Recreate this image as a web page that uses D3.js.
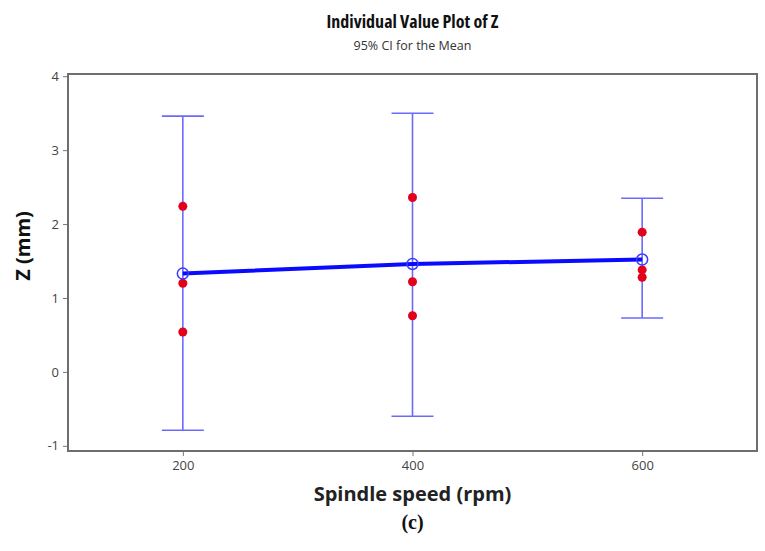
<html>
<head>
  <meta charset="utf-8">
  <script src="https://d3js.org/d3.v7.min.js"></script>
  <style type="text/css">
  body { margin: 0; background: #fff; }
  text { font-family: "Open Sans", "Noto Sans", sans-serif; }
  text.caption { font-family: "Liberation Serif", "DejaVu Serif", serif; }
  </style>
</head>
<body>
<div id="viz"></div>
<script type="text/javascript">

const WIDTH = 765, HEIGHT = 551;

// values
const speeds = [200, 400, 600];
const observations = [
  [2.24, 1.20, 0.54],
  [2.36, 1.22, 0.76],
  [1.89, 1.38, 1.28]
];
const means = [1.33, 1.46, 1.52];
const ciLow = [-0.79, -0.60, 0.73];
const ciHigh = [3.46, 3.50, 2.35];
const yTicks = [-1, 0, 1, 2, 3, 4];

const margin = {left: 68, right: 8, top: 74, bottom: 100};

let svg = d3.select("#viz")
  .append("svg")
  .attr("width", WIDTH)
  .attr("height", HEIGHT);

let x = d3.scaleLinear()
  .domain([100, 700])
  .range([margin.left, WIDTH - margin.right]);

let y = d3.scaleLinear()
  .domain([-1.07, 4.03])
  .range([HEIGHT - margin.bottom, margin.top]);

// frame
svg.append("rect")
  .attr("x", margin.left)
  .attr("y", margin.top)
  .attr("width", WIDTH - margin.right - margin.left)
  .attr("height", HEIGHT - margin.bottom - margin.top)
  .attr("fill", "none")
  .attr("stroke", "#6e6e6e")
  .attr("stroke-width", 2);

let yAxis = svg.append("g")
  .attr("transform", `translate(${margin.left - 1},0)`)
  .call(d3.axisLeft(y).tickValues(yTicks).tickFormat(d => String(d)).tickSize(4).tickPadding(4));
yAxis.select(".domain").remove();
yAxis.selectAll("line").attr("stroke", "#777");
yAxis.selectAll("text").attr("fill", "#444").style("font-size", "13px");

let xAxis = svg.append("g")
  .attr("transform", `translate(0,${HEIGHT - margin.bottom + 1})`)
  .call(d3.axisBottom(x).tickValues(speeds).tickFormat(d => String(d)).tickSize(4).tickPadding(5));
xAxis.select(".domain").remove();
xAxis.selectAll("line").attr("stroke", "#777");
xAxis.selectAll("text").attr("fill", "#444").style("font-size", "13px");

// CI bars
let groups = speeds.map((s, i) => ({s, lo: ciLow[i], hi: ciHigh[i], m: means[i]}));

svg.selectAll(".ci")
  .data(groups)
  .enter().append("line")
  .attr("x1", d => x(d.s)).attr("x2", d => x(d.s))
  .attr("y1", d => y(d.lo)).attr("y2", d => y(d.hi))
  .attr("stroke", "#6a6aff").attr("stroke-width", 1.6);

["lo", "hi"].forEach(k => {
  svg.selectAll(".cap" + k)
    .data(groups)
    .enter().append("line")
    .attr("x1", d => x(d.s) - 21).attr("x2", d => x(d.s) + 21)
    .attr("y1", d => y(d[k])).attr("y2", d => y(d[k]))
    .attr("stroke", "#6a6aff").attr("stroke-width", 1.6);
});

// mean connect line
svg.append("path")
  .datum(groups)
  .attr("d", d3.line().x(d => x(d.s)).y(d => y(d.m)))
  .attr("fill", "none")
  .attr("stroke", "#0a0aff")
  .attr("stroke-width", 4);

// individual values
let points = [];
observations.forEach((obs, i) => obs.forEach(v => points.push({s: speeds[i], v})));

svg.selectAll(".obs")
  .data(points)
  .enter().append("circle")
  .attr("cx", d => x(d.s))
  .attr("cy", d => y(d.v))
  .attr("r", 4.5)
  .attr("fill", "#e3001b");

// mean symbols
svg.selectAll(".mean")
  .data(groups)
  .enter().append("circle")
  .attr("cx", d => x(d.s))
  .attr("cy", d => y(d.m))
  .attr("r", 5.5)
  .attr("fill", "none")
  .attr("stroke", "#3a3aff")
  .attr("stroke-width", 1.5);

// titles
let cx = (margin.left + WIDTH - margin.right) / 2;

svg.append("text")
  .attr("x", cx).attr("y", 28)
  .attr("text-anchor", "middle")
  .style("font-size", "18px").style("font-weight", "bold")
  .style("font-stretch", "condensed")
  .attr("fill", "#111")
  .text("Individual Value Plot of Z");

svg.append("text")
  .attr("x", cx).attr("y", 50)
  .attr("text-anchor", "middle")
  .style("font-size", "12.5px")
  .attr("fill", "#333")
  .text("95% CI for the Mean");

svg.append("text")
  .attr("transform", "translate(30,246) rotate(-90)")
  .attr("text-anchor", "middle")
  .style("font-size", "20px").style("font-weight", "bold")
  .attr("fill", "#111")
  .text("Z (mm)");

svg.append("text")
  .attr("x", cx).attr("y", 501)
  .attr("text-anchor", "middle")
  .style("font-size", "20px").style("font-weight", "bold")
  .attr("fill", "#222")
  .text("Spindle speed (rpm)");

svg.append("text")
  .attr("class", "caption")
  .attr("x", cx).attr("y", 529)
  .attr("text-anchor", "middle")
  .style("font-size", "20px").style("font-weight", "bold")
  .attr("fill", "#111")
  .text("(c)");

</script>
</body>
</html>
